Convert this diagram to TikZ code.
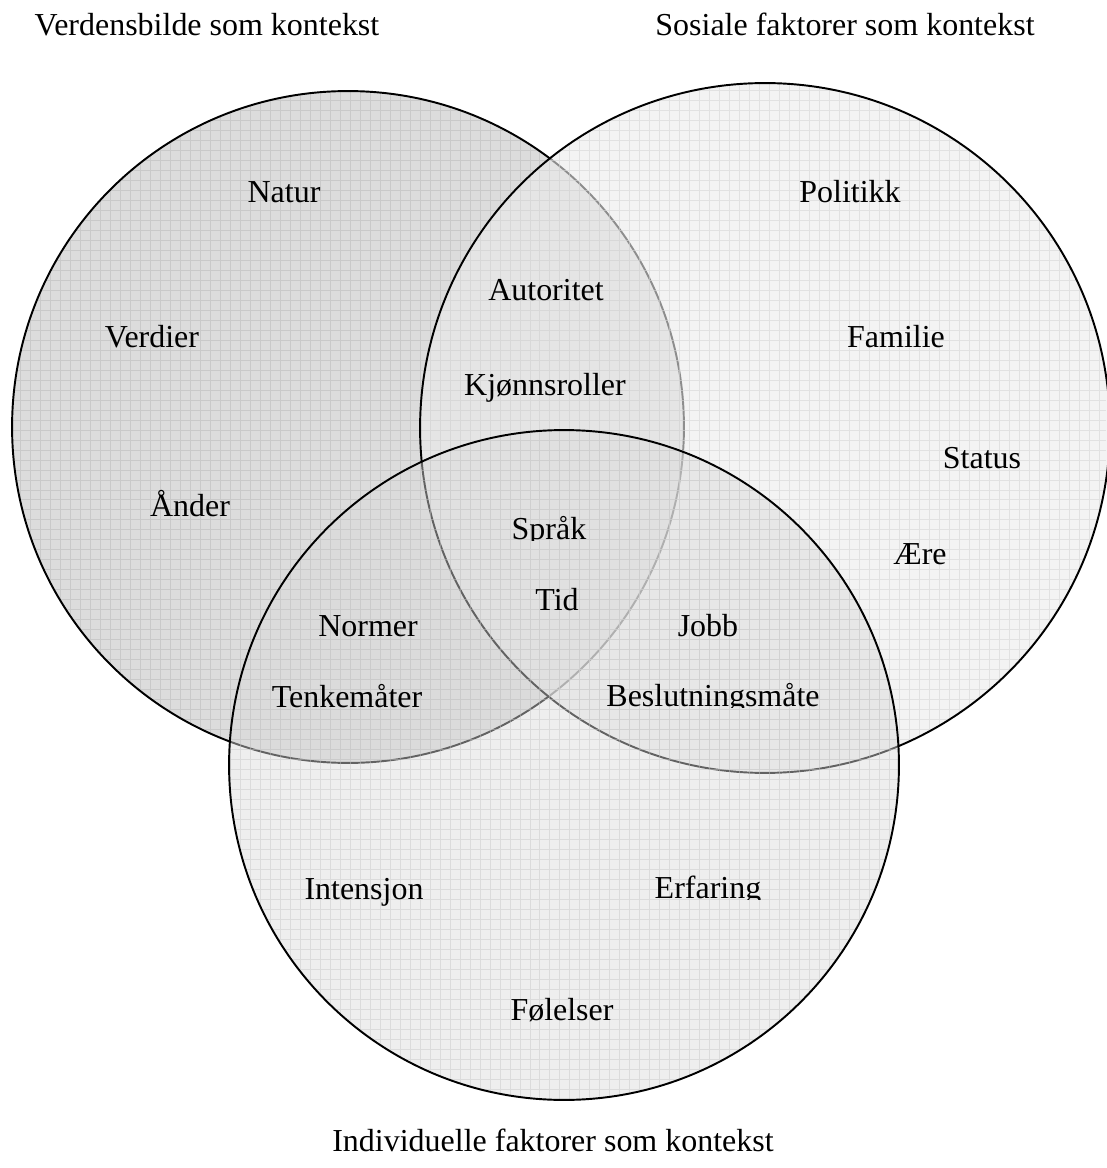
\documentclass[tikz,border=0pt]{standalone}
\usepackage{fontspec}
\setmainfont{Liberation Serif}
\definecolor{fillA}{HTML}{DCDCDC}
\definecolor{gridA}{HTML}{C9C9C9}
\definecolor{fillB}{HTML}{EBEBEB}
\definecolor{gridB}{HTML}{D6D6D6}
\definecolor{fillC}{HTML}{DADADA}
\definecolor{gridC}{HTML}{C6C6C6}
\begin{document}
\begin{tikzpicture}[x=0.02cm,y=-0.02cm,
  lbl/.style={font=\fontsize{18.2}{22}\selectfont, anchor=base, inner sep=0pt},
  rim/.style={draw=black, line width=1.1pt},
  gridline/.style={line width=0.45pt}]
\useasboundingbox (0,0) rectangle (1106,1168);
\fill[white] (0,0) rectangle (1106,1168);
% circle centres
\coordinate (cA) at (348,427);
\coordinate (cB) at (765,428);
\coordinate (cC) at (564,765);
% circle A
\fill[fillA] (cA) circle[radius=6.72cm];
\begin{scope}
  \clip (cA) circle[radius=6.72cm];
  \draw[gridA, gridline, step=0.2cm] (0,0) grid (1106,1168);
\end{scope}
\draw[rim] (cA) circle[radius=6.72cm];
% circle B
\fill[fillB, fill opacity=0.6] (cB) circle[radius=6.9cm];
\begin{scope}
  \clip (cB) circle[radius=6.9cm];
  \draw[gridB, gridline, draw opacity=0.6, step=0.2cm] (0,0) grid (1106,1168);
\end{scope}
\draw[rim] (cB) circle[radius=6.9cm];
% circle C
\fill[fillC, fill opacity=0.45] (cC) circle[radius=6.7cm];
\begin{scope}
  \clip (cC) circle[radius=6.7cm];
  \draw[gridC, gridline, draw opacity=0.45, step=0.2cm] (0,0) grid (1106,1168);
\end{scope}
\draw[rim] (cC) circle[radius=6.7cm];
% headings
\node[lbl] (h1) at (207,36) {Verdensbilde som kontekst};
\node[lbl] (h2) at (845,36) {Sosiale faktorer som kontekst};
\node[lbl] (h3) at (553,1151) {Individuelle faktorer som kontekst};
% labels
\node[lbl] (natur) at (284,203) {Natur};
\node[lbl] (politikk) at (850,203) {Politikk};
\node[lbl] (autoritet) at (546,301) {Autoritet};
\node[lbl] (verdier) at (152,348) {Verdier};
\node[lbl] (familie) at (896,348) {Familie};
\node[lbl] (kjonn) at (545,396) {Kjønnsroller};
\node[lbl] (status) at (982,468) {Status};
\node[lbl] (ander) at (190,516) {Ånder};
\begin{scope}
  \clip (0,0) rectangle (1106,540);
  \node[lbl] (sprak) at (549,539) {Språk};
\end{scope}
\node[lbl] (aere) at (920,564) {Ære};
\node[lbl] (tid) at (557,610) {Tid};
\node[lbl] (normer) at (368,636) {Normer};
\node[lbl] (jobb) at (708,636) {Jobb};
\node[lbl] (tenke) at (347,707) {Tenkemåter};
\begin{scope}
  \clip (0,0) rectangle (1106,707);
  \node[lbl] (beslut) at (713,706) {Beslutningsmåte};
\end{scope}
\node[lbl] (intensjon) at (364,899) {Intensjon};
\begin{scope}
  \clip (0,0) rectangle (1106,899);
  \node[lbl] (erfaring) at (708,898) {Erfaring};
\end{scope}
\node[lbl] (folelser) at (562,1020) {Følelser};
\end{tikzpicture}
\end{document}
